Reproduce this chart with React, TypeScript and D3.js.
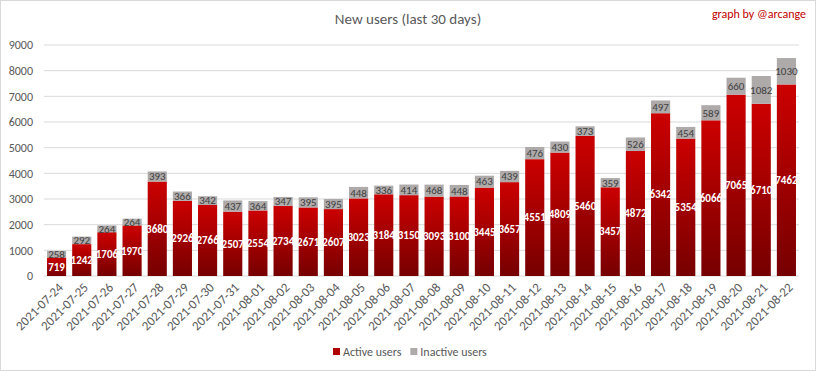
import * as d3 from 'd3';
import { useEffect, useRef } from 'react';

// dates on the x axis
const days = [
  '2021-07-24', '2021-07-25', '2021-07-26', '2021-07-27', '2021-07-28', '2021-07-29',
  '2021-07-30', '2021-07-31', '2021-08-01', '2021-08-02', '2021-08-03', '2021-08-04',
  '2021-08-05', '2021-08-06', '2021-08-07', '2021-08-08', '2021-08-09', '2021-08-10',
  '2021-08-11', '2021-08-12', '2021-08-13', '2021-08-14', '2021-08-15', '2021-08-16',
  '2021-08-17', '2021-08-18', '2021-08-19', '2021-08-20', '2021-08-21', '2021-08-22',
];

const activeUsers = [
  719, 1242, 1706, 1970, 3680, 2926, 2766, 2507, 2554, 2734, 2671, 2607, 3023, 3184, 3150,
  3093, 3100, 3445, 3657, 4551, 4809, 5460, 3457, 4872, 6342, 5354, 6066, 7065, 6710, 7462,
];

const inactiveUsers = [
  258, 292, 264, 264, 393, 366, 342, 437, 364, 347, 395, 395, 448, 336, 414,
  468, 448, 463, 439, 476, 430, 373, 359, 526, 497, 454, 589, 660, 1082, 1030,
];

const yTicks = [0, 1000, 2000, 3000, 4000, 5000, 6000, 7000, 8000, 9000];

const W = 816;
const H = 371;
const margin = { top: 45, right: 17, bottom: 95, left: 44 };
const FONT = "Carlito, 'Liberation Sans Narrow', 'Liberation Sans', sans-serif";

const App = () => {
  const ref = useRef<SVGSVGElement>(null);

  useEffect(() => {
    const svg = d3.select(ref.current);
    svg.selectAll('*').remove();

    const innerW = W - margin.left - margin.right;
    const innerH = H - margin.top - margin.bottom;

    const x = d3.scaleBand().domain(days).range([0, innerW]).paddingInner(0.24).paddingOuter(0.12);
    const y = d3.scaleLinear().domain([0, 9000]).range([innerH, 0]);

    // фон и рамка
    svg.append('rect')
      .attr('x', 0.5).attr('y', 0.5).attr('width', W - 1).attr('height', H - 1)
      .attr('fill', '#fff').attr('stroke', '#d9d9d9');

    const defs = svg.append('defs');
    const grad = defs.append('linearGradient')
      .attr('id', 'redGrad').attr('x1', 0).attr('y1', 0).attr('x2', 0).attr('y2', 1);
    grad.append('stop').attr('offset', '0%').attr('stop-color', '#cc0000');
    grad.append('stop').attr('offset', '100%').attr('stop-color', '#760000');

    const g = svg.append('g').attr('transform', `translate(${margin.left},${margin.top})`);

    // сетка
    g.selectAll('.grid')
      .data(yTicks)
      .enter()
      .append('line')
      .attr('x1', 0).attr('x2', innerW)
      .attr('y1', d => y(d)).attr('y2', d => y(d))
      .attr('stroke', '#d9d9d9').attr('stroke-width', 1);

    // подписи оси Y
    g.selectAll('.ylab')
      .data(yTicks)
      .enter()
      .append('text')
      .attr('x', -11).attr('y', d => y(d)).attr('dy', '0.35em')
      .attr('text-anchor', 'end')
      .style('font-family', FONT).style('font-size', '12px').style('fill', '#595959')
      .text(d => d);

    // столбцы активных
    g.selectAll('.active')
      .data(days)
      .enter()
      .append('rect')
      .attr('x', d => x(d)!)
      .attr('width', x.bandwidth())
      .attr('y', (d, i) => y(activeUsers[i]))
      .attr('height', (d, i) => innerH - y(activeUsers[i]))
      .attr('fill', 'url(#redGrad)');

    // столбцы неактивных
    g.selectAll('.inactive')
      .data(days)
      .enter()
      .append('rect')
      .attr('x', d => x(d)!)
      .attr('width', x.bandwidth())
      .attr('y', (d, i) => y(activeUsers[i] + inactiveUsers[i]))
      .attr('height', (d, i) => y(activeUsers[i]) - y(activeUsers[i] + inactiveUsers[i]))
      .attr('fill', '#aeaaaa');

    // подписи значений
    g.selectAll('.alab')
      .data(days)
      .enter()
      .append('text')
      .attr('x', d => x(d)! + x.bandwidth() / 2)
      .attr('y', (d, i) => y(activeUsers[i] / 2))
      .attr('dy', '0.35em')
      .attr('text-anchor', 'middle')
      .style('font-family', FONT).style('font-size', '11px').style('font-weight', 'bold').style('fill', '#fff')
      .text((d, i) => activeUsers[i]);

    g.selectAll('.ilab')
      .data(days)
      .enter()
      .append('text')
      .attr('x', d => x(d)! + x.bandwidth() / 2)
      .attr('y', (d, i) => y(activeUsers[i] + inactiveUsers[i] / 2))
      .attr('dy', '0.35em')
      .attr('text-anchor', 'middle')
      .style('font-family', FONT).style('font-size', '11px').style('fill', '#404040')
      .text((d, i) => inactiveUsers[i]);

    // подписи оси X
    g.selectAll('.xlab')
      .data(days)
      .enter()
      .append('text')
      .attr('transform', d => `translate(${x(d)! + x.bandwidth() / 2 + 4},${innerH + 9}) rotate(-45)`)
      .attr('text-anchor', 'end')
      .attr('dy', '0.35em')
      .style('font-family', FONT).style('font-size', '13px').style('fill', '#595959')
      .text(d => d);

    // заголовок
    svg.append('text')
      .attr('x', W / 2).attr('y', 24)
      .attr('text-anchor', 'middle')
      .style('font-family', FONT).style('font-size', '15px').style('fill', '#595959')
      .text('New users (last 30 days)');

    svg.append('text')
      .attr('x', 806).attr('y', 18)
      .attr('text-anchor', 'end')
      .style('font-family', FONT).style('font-size', '12px').style('fill', '#c00000')
      .text('graph by @arcange');

    // легенда
    const legend = svg.append('g').attr('transform', `translate(333, 352)`);
    const items = [
      { label: 'Active users', color: '#b00000' },
      { label: 'Inactive users', color: '#aeaaaa' },
    ];
    let off = 0;
    items.forEach(it => {
      legend.append('rect')
        .attr('x', off).attr('y', -4).attr('width', 7).attr('height', 7)
        .attr('fill', it.color);
      const t = legend.append('text')
        .attr('x', off + 10).attr('y', 0).attr('dy', '0.35em')
        .style('font-family', FONT).style('font-size', '12px').style('fill', '#595959')
        .text(it.label);
      const w = (t.node() as SVGTextElement).getComputedTextLength();
      off += 10 + w + 9;
    });
  }, []);

  return (
    <div style={{ position: 'absolute', left: 0, top: 0 }}>
      <svg ref={ref} width={W} height={H} style={{ display: 'block' }}></svg>
    </div>
  );
};

export default App;
